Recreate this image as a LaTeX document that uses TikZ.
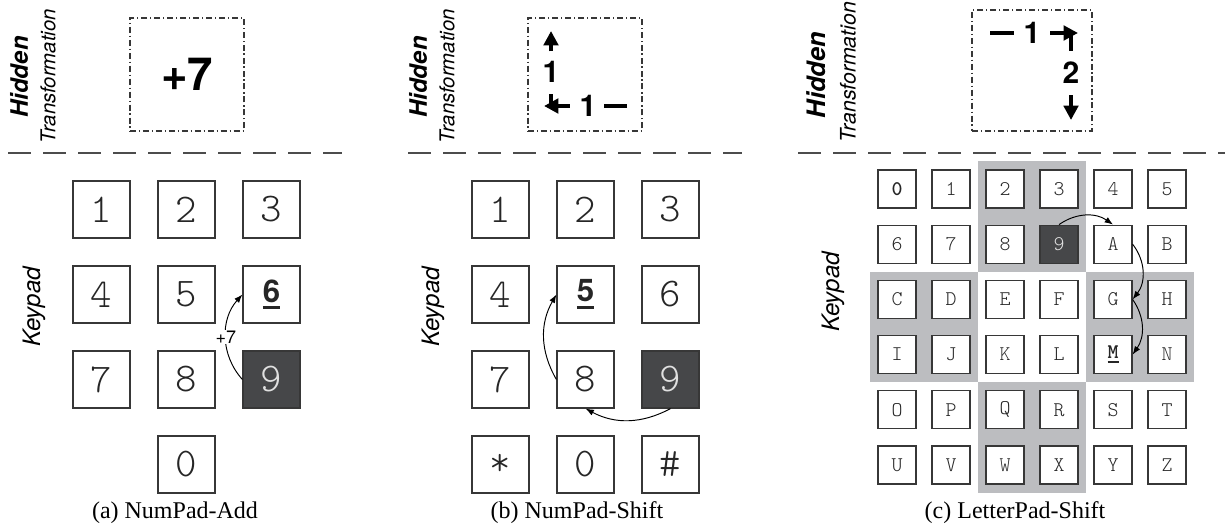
\documentclass[tikz,border=0pt]{standalone}
\usepackage{fontspec}
\setmainfont{Liberation Serif}
\setsansfont{TeX Gyre Heros}
\newfontfamily\keyfont{lmmonolt10-regular}[Extension=.otf,BoldFont=lmmonolt10-bold]
\usetikzlibrary{arrows.meta}
\definecolor{keyline}{RGB}{55,55,55}
\definecolor{keydark}{RGB}{70,71,73}
\definecolor{blockgray}{RGB}{188,189,192}
\newcommand{\thickul}[3]{\setbox0\hbox{#3}\rlap{\rule[-#1]{\wd0}{#2}}\box0}

\begin{document}
\begin{tikzpicture}[x=0.4167pt,y=0.4167pt,
  padkey/.style={draw=keyline,fill=white,line width=0.5pt,minimum size=23.75pt,inner sep=0pt,text=black!85,font=\keyfont\fontsize{17}{17}\selectfont},
  letterkey/.style={padkey,minimum size=15.83pt,font=\keyfont\fontsize{8.7}{8.7}\selectfont},
  pressed/.style={fill=keydark,text=white!88!black},
  hidtitle/.style={rotate=90,font=\sffamily\bfseries\itshape\fontsize{10}{10}\selectfont},
  trans/.style={rotate=90,font=\sffamily\itshape\fontsize{8.5}{8.5}\selectfont},
  padlabel/.style={rotate=90,font=\sffamily\itshape\fontsize{10}{10}\selectfont},
  hidbox/.style={draw=keyline,line width=0.5pt,dash pattern=on 2.5pt off 1.2pt on 0.5pt off 1.2pt,minimum width=47.5pt,minimum height=47.1pt},
  divider/.style={draw=black!70,line width=0.55pt,dash pattern=on 9.6pt off 5pt},
  hop/.style={-{Latex[length=3.5pt,width=2.6pt]},line width=0.4pt},
  inkline/.style={line width=1.6pt},
  inkarrow/.style={inkline,-{Triangle[length=6pt,width=6pt]}},
  stepnum/.style={font=\sffamily\bfseries\fontsize{12.5}{12.5}\selectfont,inner sep=1pt},
  subcap/.style={font=\fontsize{10}{12}\selectfont}]
\useasboundingbox (0,0) rectangle (1225,-529);
%
\node[hidtitle] (ahid) at (19,-77) {Hidden};
\node[trans] (atrans) at (48,-76) {Transformation};
\node[hidbox] (abox) at (187,-74.5) {\sffamily\bfseries\fontsize{19}{19}\selectfont +7};
\draw[divider] (8,-153) -- (342,-153);
\node[padlabel] (akeypad) at (34,-307) {Keypad};
\foreach \n/\c/\r in {1/0/0,2/1/0,3/2/0,4/0/1,5/1/1,7/0/2,8/1/2}
  \node[padkey] (a\n) at (101.5+85*\c,-209.5-85*\r) {\n};
\node[padkey] (a6) at (271.5,-294.5) {\sffamily\bfseries\fontsize{13}{13}\selectfont\thickul{3pt}{1.3pt}{6}};
\node[padkey,pressed] (a9) at (271.5,-379.5) {9};
\node[padkey] (a0) at (186.5,-464.5) {0};
\draw[hop] (a9.west) to[bend left=42] node[fill=white,inner sep=0.5pt,font=\sffamily\fontsize{7.5}{7.5}\selectfont] (aplus) {+7} (a6.west);
\node[subcap] (acap) at (175,-513) {(a) NumPad-Add};
%
\node[hidtitle] (bhid) at (418,-77) {Hidden};
\node[trans] (btrans) at (447,-76) {Transformation};
\node[hidbox] (bbox) at (585,-74.5) {};
\node[stepnum] (bh1) at (588,-106) {1};
\node[stepnum] (bv1) at (551,-72) {1};
\coordinate (bhin) at (627,-106);
\coordinate (bturn) at (544,-106);
\coordinate (bknee) at (551,-108);
\coordinate (bvend) at (551,-31);
\draw[inkline,shorten >=2pt] (bhin) -- (bh1);
\draw[inkarrow,shorten <=3pt] (bh1) -- (bturn);
\draw[inkline,shorten >=3.5pt] (bknee) -- (bv1);
\draw[inkarrow,shorten <=3pt] (bv1) -- (bvend);
\draw[divider] (408,-153) -- (742,-153);
\node[padlabel] (bkeypad) at (433,-307) {Keypad};
\foreach \n/\t/\c/\r in {1/1/0/0,2/2/1/0,3/3/2/0,4/4/0/1,6/6/2/1,7/7/0/2,8/8/1/2,star/*/0/3,0/0/1/3,hash/\#/2/3}
  \node[padkey] (b\n) at (500.5+85*\c,-209.5-85*\r) {\t};
\node[padkey] (b5) at (585.5,-294.5) {\sffamily\bfseries\fontsize{13}{13}\selectfont\thickul{3pt}{1.3pt}{5}};
\node[padkey,pressed] (b9) at (670.5,-379.5) {9};
\draw[hop] (b9.south) to[bend left=28] (b8.south);
\draw[hop] (b8.west) to[bend left=30] (b5.west);
\node[subcap] (bcap) at (577,-513) {(b) NumPad-Shift};
%
\node[hidtitle,font=\sffamily\bfseries\itshape\fontsize{10.6}{10.6}\selectfont] (chid) at (816,-75) {Hidden};
\node[trans,font=\sffamily\itshape\fontsize{8.9}{8.9}\selectfont] (ctrans) at (848,-72) {Transformation};
\node[hidbox,minimum width=50pt,minimum height=50.4pt] (cbox) at (1032,-70.5) {};
\node[stepnum] (ch1) at (1032,-33) {1};
\node[stepnum] (cv2) at (1071,-73) {2};
\coordinate (chin) at (990,-33);
\coordinate (chturn) at (1078,-33);
\coordinate (cknee) at (1071,-31);
\coordinate (cvend) at (1071,-120);
\draw[inkline,shorten >=3pt] (chin) -- (ch1);
\draw[inkarrow,shorten <=3pt] (ch1) -- (chturn);
\draw[inkline,shorten >=3.5pt] (cknee) -- (cv2);
\draw[inkarrow,shorten <=3.5pt] (cv2) -- (cvend);
\draw[divider] (798,-153) -- (1225,-153);
\node[padlabel] (ckeypad) at (833,-292) {Keypad};
\fill[blockgray] (978,-161.4) rectangle (1086,-271.8);
\fill[blockgray] (870,-271.8) rectangle (978,-382.2);
\fill[blockgray] (1086,-271.8) rectangle (1194,-382.2);
\fill[blockgray] (978,-382.2) rectangle (1086,-492.6);
\foreach \r/\keys in {0/{1/1,2/2,3/3,4/4,5/5},1/{6/0,7/1,8/2,A/4,B/5},2/{C/0,D/1,E/2,F/3,G/4,H/5},
    3/{I/0,J/1,K/2,L/3,N/5},4/{O/0,P/1,Q/2,R/3,S/4,T/5},5/{U/0,V/1,W/2,X/3,Y/4,Z/5}}
  \foreach \t/\c in \keys
    \node[letterkey] (c\t) at (897+54*\c,-189-55.2*\r) {\t};
\node[letterkey] (c0) at (897,-189) {\bfseries 0};
\node[letterkey,pressed] (c9) at (1059,-244.2) {9};
\node[letterkey] (cM) at (1113,-354.6) {\bfseries\thickul{2pt}{0.8pt}{M}};
\draw[hop] (c9.north) to[bend left=35] (cA.north);
\draw[hop] (cA.east) to[bend left=38] (cG.east);
\draw[hop] (cG.east) to[bend left=35] (cM.east);
\node[subcap] (ccap) at (1015,-513) {(c) LetterPad-Shift};
%
\end{tikzpicture}
\end{document}
